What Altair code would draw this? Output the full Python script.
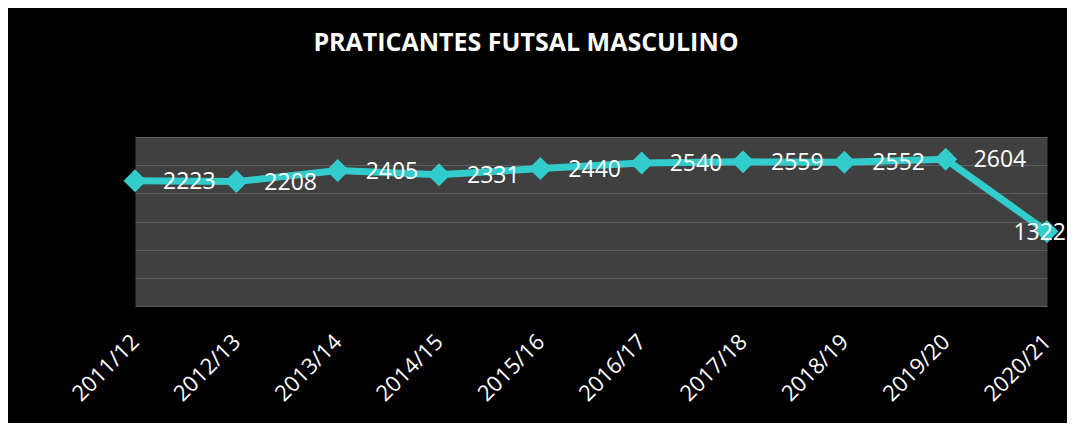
import altair as alt
import pandas as pd

seasons = ["2011/12", "2012/13", "2013/14", "2014/15", "2015/16",
           "2016/17", "2017/18", "2018/19", "2019/20", "2020/21"]
praticantes = [2223, 2208, 2405, 2331, 2440, 2540, 2559, 2552, 2604, 1322]
grid_values = [0, 500, 1000, 1500, 2000, 2500, 3000]

df = pd.DataFrame({"season": seasons, "value": praticantes})

TEAL = "#33CCCC"
FONT = "Open Sans"

x = alt.X(
    "season:N", sort=seasons,
    scale=alt.Scale(type="point", padding=0),
    axis=alt.Axis(title=None, labelAngle=-45, labelFont=FONT, labelFontSize=22,
                  labelColor="white", labelPadding=32, ticks=False, domain=False,
                  grid=False, labelAlign="right", labelBaseline="middle",
                  labelOverlap=False),
)
y = alt.Y(
    "value:Q", scale=alt.Scale(domain=[0, 3000]),
    axis=alt.Axis(title=None, labels=False, ticks=False, domain=False,
                  values=grid_values, gridColor="#5e5e5e", gridWidth=1.2),
)

base = alt.Chart(df).encode(x=x, y=y)

line = base.mark_line(color=TEAL, strokeWidth=7)
pts = base.mark_point(shape="diamond", filled=True, size=529, color=TEAL, opacity=1)
labels = base.transform_filter(alt.datum.season != seasons[-1]).mark_text(
    align="left", baseline="middle", dx=28, dy=1, font=FONT, fontSize=23, color="white"
).encode(text=alt.Text("value:Q", format="d"))
last = base.transform_filter(alt.datum.season == seasons[-1]).mark_text(
    align="right", baseline="middle", dx=19, dy=1, font=FONT, fontSize=23, color="white"
).encode(text=alt.Text("value:Q", format="d"))

chart = alt.layer(line, pts, labels, last).properties(
    width=912, height=169,
    title=alt.TitleParams(
        "PRATICANTES FUTSAL MASCULINO", font=FONT, fontSize=25, fontWeight="bold",
        color="white", anchor="middle", frame="group", dx=-65, offset=61,
        baseline="alphabetic",
    ),
    autosize=alt.AutoSizeParams(type="none"),
    padding={"left": 127, "top": 129, "right": 20, "bottom": 117},
    background="black",
).configure_view(fill="#404040", stroke="transparent")

chart.save("out.html", embed_options={"renderer": "svg", "actions": False})
